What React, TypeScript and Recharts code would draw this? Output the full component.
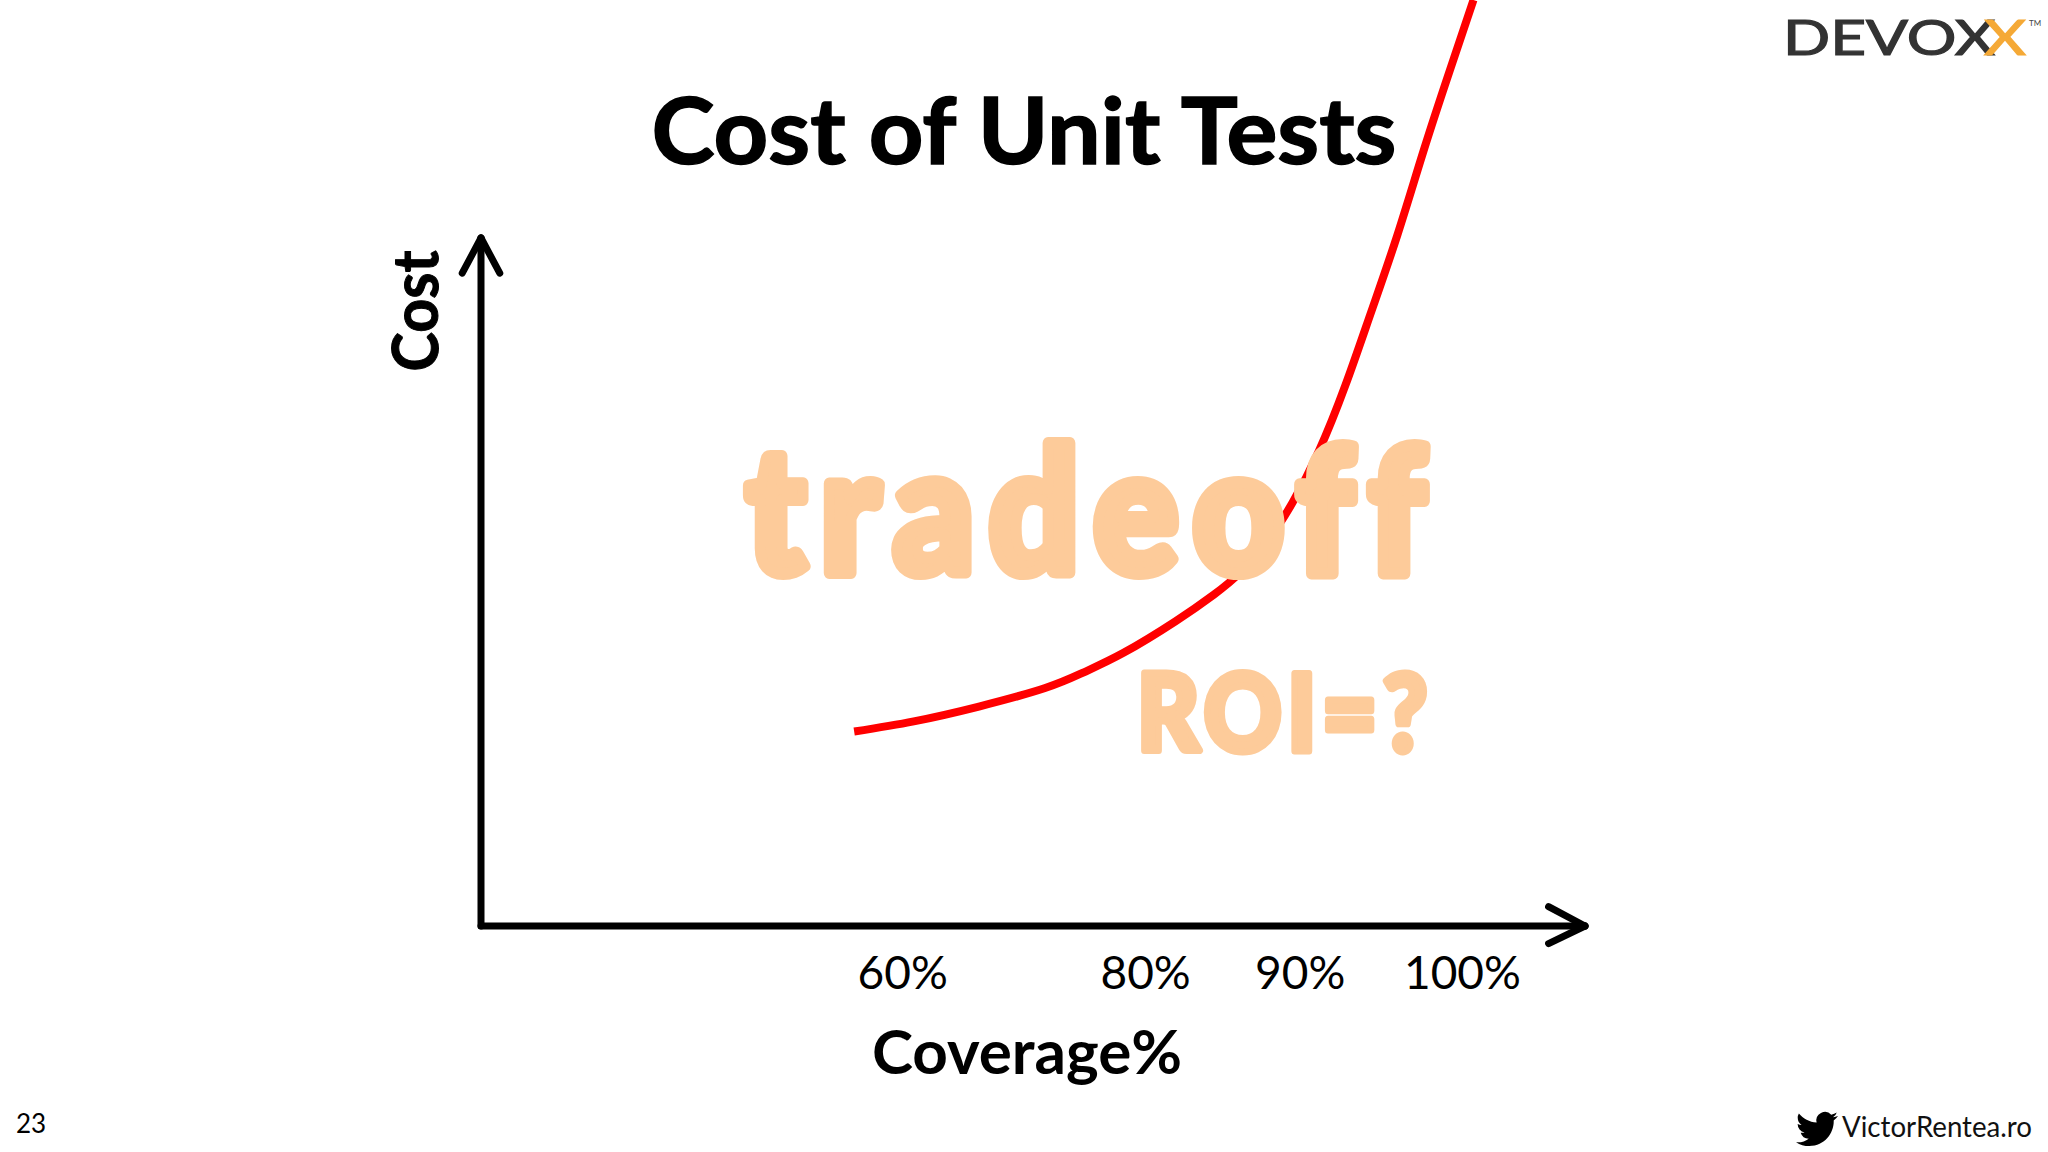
import React from 'react';
import { ComposedChart, Line, XAxis, YAxis, ReferenceLine } from 'recharts';

const FONT = 'Lato, "Open Sans", sans-serif';
const curvePosition = [33.8, 39.2, 45.1, 51.1, 54.6, 58.2, 62.9, 66.4, 68.8, 71.2, 73.5, 75.9, 78.3, 80.6, 83.0, 85.4, 87.7, 89.9];
const curveCost = [21.0, 22.1, 23.7, 25.7, 27.4, 29.5, 32.9, 35.8, 38.2, 41.5, 45.7, 51.3, 58.4, 66.2, 74.6, 83.8, 92.2, 100];
const tickPositions = [38.2, 60.2, 74.2, 88.9];
const tickLabels = ['60%', '80%', '90%', '100%'];
const chartData = curvePosition.map((position, i) => ({ position, cost: curveCost[i] }));

const BIRD = 'M23.953 4.57a10 10 0 01-2.825.775 4.958 4.958 0 002.163-2.723c-.951.555-2.005.959-3.127 1.184a4.92 4.92 0 00-8.384 4.482C7.69 8.095 4.067 6.13 1.64 3.162a4.822 4.822 0 00-.666 2.475c0 1.71.87 3.213 2.188 4.096a4.904 4.904 0 01-2.228-.616v.06a4.923 4.923 0 003.946 4.827 4.996 4.996 0 01-2.212.085 4.936 4.936 0 004.604 3.417 9.867 9.867 0 01-6.102 2.105c-.39 0-.779-.023-1.17-.067a13.995 13.995 0 007.557 2.209c9.053 0 13.998-7.496 13.998-13.985 0-.21 0-.42-.015-.63A9.935 9.935 0 0024 4.59z';

const arrowProps = { stroke: '#000', strokeWidth: 7, strokeLinecap: 'round' as const, ifOverflow: 'visible' as const };

export default function App() {
  return (
    <div style={{ position: 'absolute', left: 0, top: 0, width: 2048, height: 1152, background: '#fff', overflow: 'hidden' }}>
      <ComposedChart width={2048} height={1152} data={chartData} margin={{ top: 0, right: 463, bottom: 0, left: 381 }}>
        <XAxis
          type="number"
          dataKey="position"
          domain={[0, 100]}
          ticks={tickPositions}
          tickFormatter={(v: number) => tickLabels[tickPositions.indexOf(v)]}
          interval={0}
          height={226}
          axisLine={false}
          tickLine={false}
          tickMargin={24}
          tick={{ fill: '#000', fontSize: 46, fontFamily: FONT }}
          label={{ value: 'Coverage%', position: 'insideBottom', offset: 78, dx: -6, fill: '#000', fontSize: 62, fontWeight: 700, fontFamily: FONT }}
        />
        <YAxis type="number" domain={[0, 100]} width={100} tick={false} axisLine={false} tickLine={false} />
        <ReferenceLine segment={[{ x: 0, y: 0 }, { x: 100, y: 0 }]} {...arrowProps} />
        <ReferenceLine segment={[{ x: 100, y: 0 }, { x: 96.7, y: 2.1 }]} {...arrowProps} />
        <ReferenceLine segment={[{ x: 100, y: 0 }, { x: 96.7, y: -1.9 }]} {...arrowProps} />
        <ReferenceLine segment={[{ x: 0, y: 0 }, { x: 0, y: 74.3 }]} {...arrowProps} />
        <ReferenceLine segment={[{ x: 0, y: 74.3 }, { x: -1.7, y: 70.5 }]} {...arrowProps} />
        <ReferenceLine segment={[{ x: 0, y: 74.3 }, { x: 1.7, y: 70.5 }]} {...arrowProps} />
        <Line dataKey="cost" type="natural" stroke="#ff0000" strokeWidth={8} dot={false} isAnimationActive={false} legendType="none" />
        <text x={1024} y={164} textAnchor="middle" fontFamily={FONT} fontWeight={700} fontSize={92} fill="#000" stroke="#000" strokeWidth={1.5} textLength={745} lengthAdjust="spacingAndGlyphs">Cost of Unit Tests</text>
        <text transform="translate(438 311) rotate(-90)" textAnchor="middle" fontFamily={FONT} fontWeight={700} fontSize={64} fill="#000" stroke="#000" strokeWidth={1} textLength={121} lengthAdjust="spacingAndGlyphs">Cost</text>
        <text x={16} y={1133} fontFamily={FONT} fontSize={26} fill="#000">23</text>
        <path d={BIRD} transform="translate(1796 1108) scale(1.75)" fill="#000" />
        <text x={1842} y={1137} fontFamily={FONT} fontSize={29} fill="#111" textLength={190} lengthAdjust="spacingAndGlyphs">VictorRentea.ro</text>
        <text x={1783} y={55} fontFamily={FONT} fontSize={48} fill="#333" stroke="#333" strokeWidth={1.2} textLength={212} lengthAdjust="spacingAndGlyphs">DEVOX</text>
        <text x={1984} y={55} fontFamily={FONT} fontSize={48} fill="#f5a936" stroke="#f5a936" strokeWidth={1.2} textLength={42} lengthAdjust="spacingAndGlyphs">X</text>
        <text x={2029} y={26} fontFamily={FONT} fontSize={8} fill="#444">TM</text>
      </ComposedChart>
      <svg width={2048} height={1152} style={{ position: 'absolute', left: 0, top: 0, pointerEvents: 'none' }}>
        <g fill="#fdcb9a" stroke="#fdcb9a" strokeLinejoin="round" fontFamily={FONT} fontWeight={900}>
          <text x={746} y={573} fontSize={174} strokeWidth={12} letterSpacing={16} textLength={694} lengthAdjust="spacingAndGlyphs">tradeoff</text>
          <text x={1137} y={751} fontSize={106} strokeWidth={7} letterSpacing={6} textLength={296} lengthAdjust="spacingAndGlyphs">ROI=?</text>
        </g>
      </svg>
    </div>
  );
}
